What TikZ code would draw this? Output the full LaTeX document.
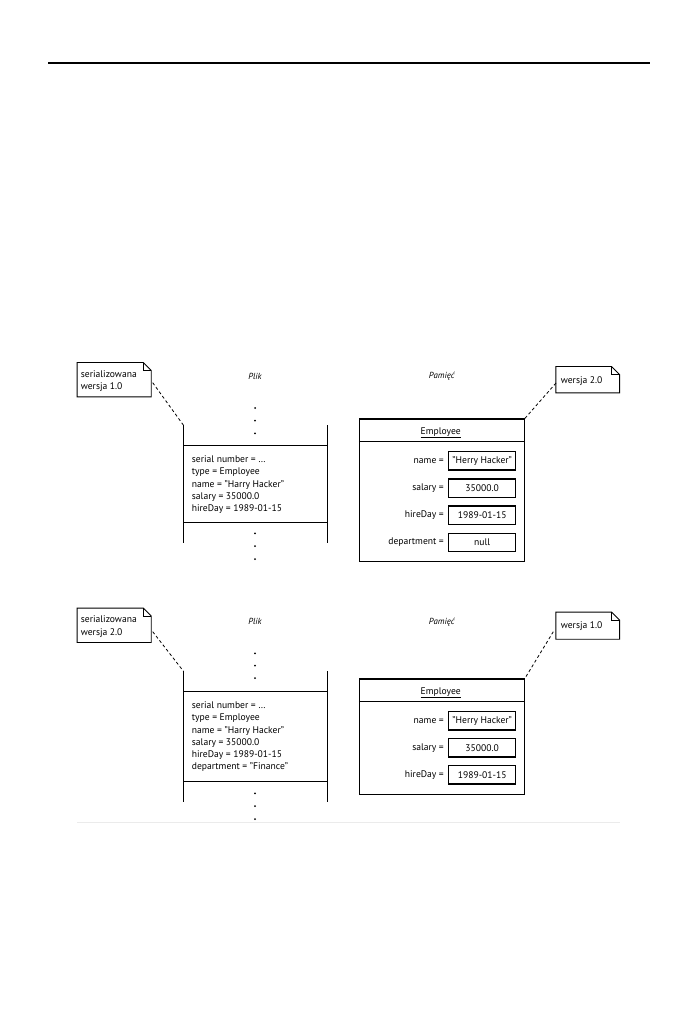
\documentclass[tikz,border=0pt]{standalone}
\usepackage{fontspec}
\setmainfont{PT Sans}
\usetikzlibrary{calc}
\tikzset{
  txt/.style={inner sep=0pt, font=\fontsize{9.6}{12.3}\selectfont},
  lbl/.style={txt, anchor=east},
  valbox/.style={draw, line width=1.1pt, minimum width=67pt, minimum height=18.3pt, inner sep=0pt, font=\fontsize{9.6}{10}\selectfont},
  objbox/.style={draw, line width=1.1pt, minimum width=165pt, inner sep=0pt},
  notebody/.style={minimum width=73.7pt, minimum height=34pt, inner sep=0pt},
  conn/.style={dashed, dash pattern=on 3pt off 2.5pt, line width=0.8pt},
  colline/.style={line width=0.9pt},
  dotc/.style={circle, fill=black, inner sep=0pt, minimum size=2pt},
  title/.style={txt, font=\fontsize{8.8}{10}\selectfont\itshape}
}
\newcommand{\notepath}[1]{%
  \draw[line width=0.9pt] (#1.north west) -- ([xshift=-8pt]#1.north east) -- ([yshift=-8pt]#1.north east) -- (#1.south east) -- (#1.south west) -- cycle;
  \draw[line width=0.6pt] ([xshift=-8pt]#1.north east) -- ([xshift=-8pt,yshift=-8pt]#1.north east) -- ([yshift=-8pt]#1.north east);}
\begin{document}
\begin{tikzpicture}[x=1pt,y=-1pt]
\useasboundingbox (0,0) rectangle (698,1016);
\coordinate (ruleL) at (48,63);
\coordinate (ruleR) at (650,63);
\draw[line width=1.2pt] (ruleL) -- (ruleR);

% ===== TOP SECTION =====
\node[notebody, minimum width=73.7pt, minimum height=34pt] (n1) at (114.2,379.7) {};
\notepath{n1}
\node[txt, anchor=west, align=left] (n1t) at (80.7,381) {serializowana\\wersja 1.0};

\node[title] (plik1) at (255,376) {Plik};
\node[title] (pam1) at (441.7,376) {Pamięć};

\node[notebody, minimum width=63.3pt, minimum height=26pt] (n2) at (587.7,379.7) {};
\notepath{n2}
\node[txt, anchor=west] (n2t) at (560.7,380.7) {wersja 2.0};

% file column
\node[dotc] (d1a) at (255,408) {};
\node[dotc] (d1b) at (255,420.7) {};
\node[dotc] (d1c) at (255,433.3) {};
\coordinate (f1tl) at (183.3,425);
\coordinate (f1bl) at (183.3,543.3);
\coordinate (f1tr) at (327.3,425);
\coordinate (f1br) at (327.3,543.3);
\draw[colline] (f1tl) -- (f1bl);
\draw[colline] (f1tr) -- (f1br);
\coordinate (h1aL) at (183.3,445.7); \coordinate (h1aR) at (327.3,445.7);
\coordinate (h1bL) at (183.3,522); \coordinate (h1bR) at (327.3,522);
\draw[colline] (h1aL) -- (h1aR);
\draw[colline] (h1bL) -- (h1bR);
\node[txt, anchor=west, align=left] (rec1) at (191.7,484.7) {serial number = \dots\\type = Employee\\name = "Harry Hacker"\\salary = 35000.0\\hireDay = 1989-01-15};
\node[dotc] (d1d) at (255,533.3) {};
\node[dotc] (d1e) at (255,546) {};
\node[dotc] (d1f) at (255,559) {};

\coordinate (c1a) at (152.7,382.7);
\draw[conn] (c1a) -- (f1tl);

% object box
\node[objbox, minimum height=142.7pt] (emp1) at (441.8,490.35) {};
\draw[line width=1.1pt] (emp1.north west) ++(0,22.7) coordinate (e1dl) -- (emp1.north east |- e1dl) coordinate (e1dr);
\node[txt] (emp1t) at (440.7,432.7) {\underline{Employee}};
\node[valbox] (v1a) at (482.2,460.85) {"Herry Hacker"};
\node[valbox] (v1b) at (482.2,488.15) {35000.0};
\node[valbox] (v1c) at (482.2,515.15) {1989-01-15};
\node[valbox] (v1d) at (482.2,542.5) {null};
\node[lbl] (l1a) at (444,460.85) {name =};
\node[lbl] (l1b) at (444,488.15) {salary =};
\node[lbl] (l1c) at (444,515.15) {hireDay =};
\node[lbl] (l1d) at (444,542.5) {department =};
\coordinate (c2a) at (556,383);
\draw[conn] (c2a) -- (emp1.north east);

% ===== BOTTOM SECTION =====
\node[notebody, minimum width=73.7pt, minimum height=34pt] (n3) at (114.2,625.3) {};
\notepath{n3}
\node[txt, anchor=west, align=left] (n3t) at (80.7,626.5) {serializowana\\wersja 2.0};

\node[title] (plik2) at (255,621.7) {Plik};
\node[title] (pam2) at (441.7,621.7) {Pamięć};

\node[notebody, minimum width=63.3pt, minimum height=26.7pt] (n4) at (587.7,625.7) {};
\notepath{n4}
\node[txt, anchor=west] (n4t) at (560.7,626) {wersja 1.0};

\node[dotc] (d2a) at (255,653.3) {};
\node[dotc] (d2b) at (255,665.7) {};
\node[dotc] (d2c) at (255,678) {};
\coordinate (f2tl) at (183.3,671);
\coordinate (f2bl) at (183.3,802.3);
\coordinate (f2tr) at (327.3,671);
\coordinate (f2br) at (327.3,802.3);
\draw[colline] (f2tl) -- (f2bl);
\draw[colline] (f2tr) -- (f2br);
\coordinate (h2aL) at (183.3,691); \coordinate (h2aR) at (327.3,691);
\coordinate (h2bL) at (183.3,781.7); \coordinate (h2bR) at (327.3,781.7);
\draw[colline] (h2aL) -- (h2aR);
\draw[colline] (h2bL) -- (h2bR);
\node[txt, anchor=west, align=left] (rec2) at (191.7,736.8) {serial number = \dots\\type = Employee\\name = "Harry Hacker"\\salary = 35000.0\\hireDay = 1989-01-15\\department = "Finance"};
\node[dotc] (d2d) at (255,793.3) {};
\node[dotc] (d2e) at (255,806) {};
\node[dotc] (d2f) at (255,819) {};

\coordinate (c3a) at (152.7,631.7);
\draw[conn] (c3a) -- (f2tl);

\node[objbox, minimum height=115.3pt] (emp2) at (441.8,736.65) {};
\draw[line width=1.1pt] (emp2.north west) ++(0,23.3) coordinate (e2dl) -- (emp2.north east |- e2dl) coordinate (e2dr);
\node[txt] (emp2t) at (440.7,692.7) {\underline{Employee}};
\node[valbox] (v2a) at (482.2,720.85) {"Herry Hacker"};
\node[valbox] (v2b) at (482.2,747.85) {35000.0};
\node[valbox] (v2c) at (482.2,774.85) {1989-01-15};
\node[lbl] (l2a) at (444,720.85) {name =};
\node[lbl] (l2b) at (444,747.85) {salary =};
\node[lbl] (l2c) at (444,774.85) {hireDay =};
\coordinate (c4a) at (553.3,631.7);
\draw[conn] (c4a) -- (emp2.north east);

\coordinate (fL) at (77,822.5);
\coordinate (fR) at (620,822.5);
\draw[black!8, line width=0.8pt] (fL) -- (fR);
\end{tikzpicture}
\end{document}
